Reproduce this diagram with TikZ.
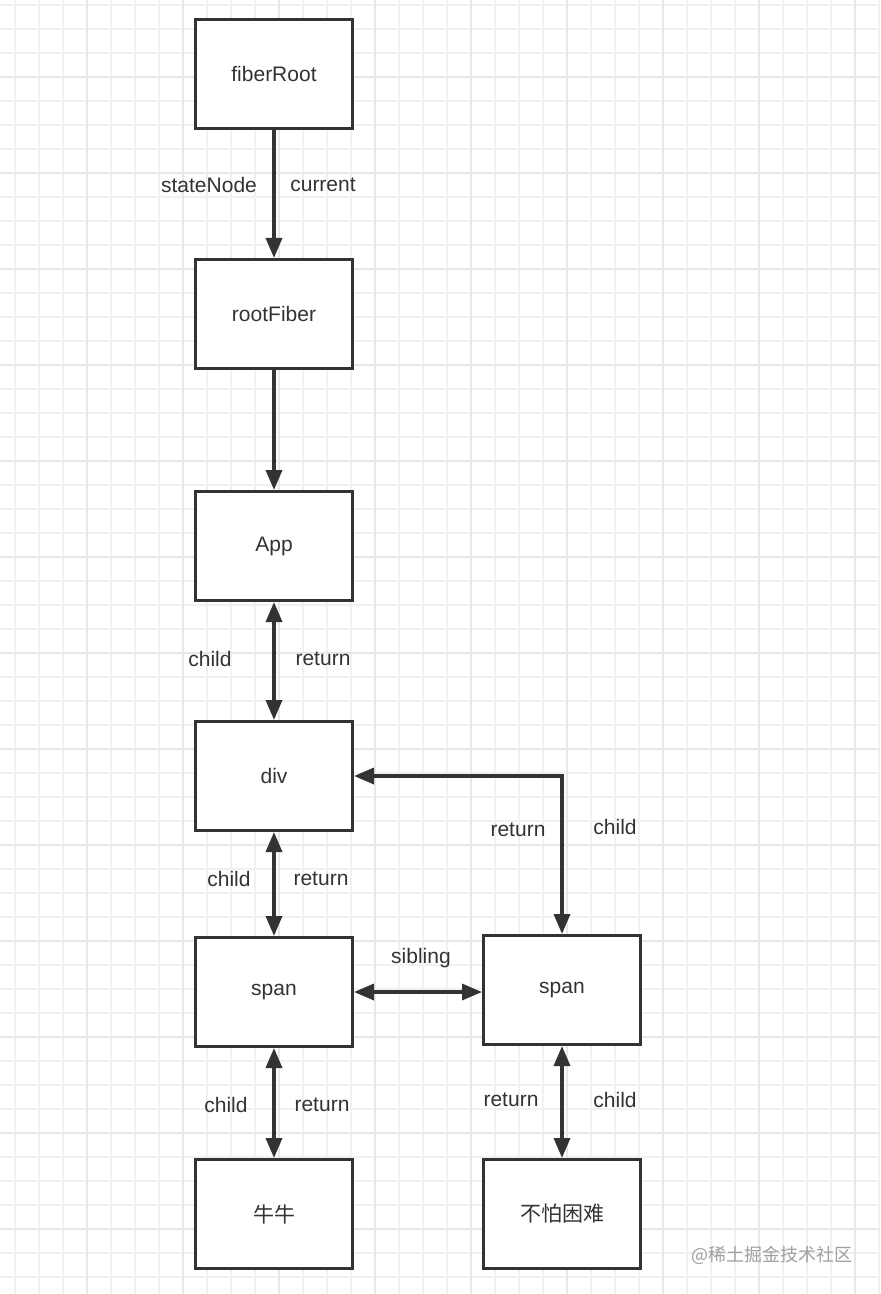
\documentclass[tikz,border=0pt]{standalone}
\usepackage{fontspec}
\setmainfont{Liberation Sans}
\newfontfamily\cjk{Noto Sans CJK SC}
\usetikzlibrary{arrows.meta}
\definecolor{ink}{HTML}{333333}
\definecolor{gridminor}{HTML}{F1F1F1}
\definecolor{gridmajor}{HTML}{E8E8E8}

\begin{document}
\begin{tikzpicture}[x=0.5pt,y=-0.5pt,
  box/.style={draw=ink,line width=1.5pt,fill=white,minimum width=78.5pt,minimum height=54.5pt,inner sep=0pt,text=ink,font=\fontsize{10.5}{12}\selectfont},
  lbl/.style={text=ink,font=\fontsize{10.5}{12}\selectfont},
  link/.style={draw=ink,line width=1.7pt,-{Triangle[length=10pt,width=8pt]}},
  both/.style={link,{Triangle[length=10pt,width=8pt]}-{Triangle[length=10pt,width=8pt]}}]

% paper
\fill[white] (0,0) rectangle (880,1294);
\useasboundingbox (0,0) rectangle (880,1294);
\foreach \x in {15,39,...,879} \draw[gridminor,line width=1.2pt] (\x,0) -- (\x,1294);
\foreach \y in {5,29,...,1293} \draw[gridminor,line width=1.2pt] (0,\y) -- (880,\y);
\foreach \x in {87,183,...,879} \draw[gridmajor,line width=1.2pt] (\x,0) -- (\x,1294);
\foreach \y in {77,173,...,1293} \draw[gridmajor,line width=1.2pt] (0,\y) -- (880,\y);

% boxes
\node[box] (fiberroot) at (274,74) {fiberRoot};
\node[box] (rootfiber) at (274,314) {rootFiber};
\node[box] (app) at (274,546) {App};
\node[box] (div) at (274,776) {div};
\node[box] (spanl) at (274,992) {span};
\node[box] (niuniu) at (274,1214) {\cjk 牛牛};
\node[box] (spanr) at (562,990) {span};
\node[box] (bupa) at (562,1214) {\cjk 不怕困难};

% links
\draw[link] (fiberroot) -- (rootfiber);
\draw[link] (rootfiber) -- (app);
\draw[both] (app) -- (div);
\draw[both] (div) -- (spanl);
\draw[both] (spanl) -- (niuniu);
\draw[both] (spanl.east) -- (spanr.west |- spanl.east);
\draw[both] (div.east) -| (spanr.north);
\draw[both] (spanr) -- (bupa);

% labels
\node[lbl] (statenode) at (209,185) {stateNode};
\node[lbl] (current) at (323,185) {current};
\node[lbl] (childa) at (210,659) {child};
\node[lbl] (returna) at (323,659) {return};
\node[lbl] (childb) at (229,879) {child};
\node[lbl] (returnb) at (321,879) {return};
\node[lbl] (returnc) at (518,830) {return};
\node[lbl] (childc) at (615,827) {child};
\node[lbl] (sibling) at (421,958) {sibling};
\node[lbl] (childd) at (226,1105) {child};
\node[lbl] (returnd) at (322,1105) {return};
\node[lbl] (returne) at (511,1100) {return};
\node[lbl] (childe) at (615,1100) {child};

% watermark
\node[text=gray!75,font=\cjk\fontsize{9}{10}\selectfont] (mark) at (772,1255) {@稀土掘金技术社区};

\end{tikzpicture}
\end{document}
